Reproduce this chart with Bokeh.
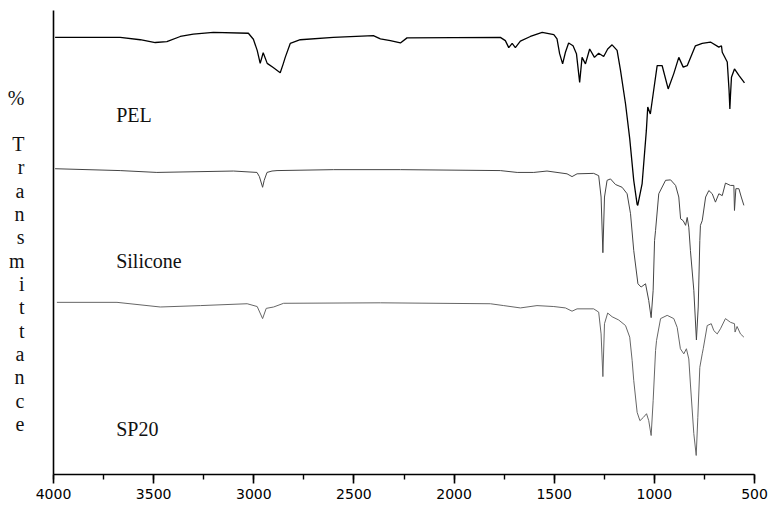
from bokeh.plotting import figure
from bokeh.models import Range1d, SingleIntervalTicker, Label, FixedTicker
from bokeh.embed import file_html
from bokeh.resources import INLINE

# ---- data (wavenumber cm-1, transmittance in arbitrary stacked units) ----
pel_wn = [3992, 3667, 3567, 3492, 3434, 3367, 3302, 3202, 3027, 3002, 2983, 2968, 2953, 2933, 2903,
          2868, 2853, 2843, 2818, 2768,
          2603, 2403, 2368, 2318, 2268, 2235, 1769, 1744, 1727, 1710, 1694, 1669, 1619, 1560,
          1502, 1486, 1473, 1458, 1444, 1428, 1406, 1389, 1373, 1361, 1344, 1323, 1299, 1278,
          1253, 1233, 1211, 1186, 1169, 1144, 1123, 1103, 1086, 1083, 1061, 1040, 1033, 1020,
          1006, 986, 961, 931, 903, 878, 856, 836, 795, 761, 720, 678, 665, 661, 636, 627,
          623, 620, 615, 600, 578, 550]
pel_t = [94.2, 94.2, 93.7, 93.1, 93.3, 94.4, 94.9, 95.3, 95.1, 93.8, 91.4, 88.6, 90.9, 88.6, 87.7,
         86.6, 88.5, 89.9, 92.9, 93.7,
         94.2, 94.6, 93.9, 93.5, 93.0, 94.1, 94.2, 93.5, 92.0, 92.9, 92.0, 93.4, 94.4, 95.3,
         94.8, 93.9, 90.7, 88.5, 91.0, 93.0, 92.4, 90.7, 84.5, 89.9, 88.5, 91.7, 89.9, 90.8,
         90.1, 91.7, 92.6, 91.4, 87.1, 79.9, 72.4, 63.4, 58.2, 58.0, 62.7, 74.1, 79.2, 77.7,
         82.0, 88.1, 88.1, 83.1, 86.4, 89.9, 87.8, 88.1, 92.4, 92.9, 93.2, 92.1, 92.4, 91.0,
         88.9, 82.8, 78.8, 81.7, 85.6, 87.4, 86.0, 84.4]

sil_wn = [3992, 3667, 3484, 3101, 2984, 2972, 2956, 2948, 2934, 2909, 2884, 2601, 2268, 1769,
          1685, 1602, 1536, 1436, 1411, 1386, 1303, 1278, 1266, 1257, 1249, 1236, 1219, 1194,
          1161, 1136, 1119, 1103, 1082, 1066, 1044, 1028, 1016, 1006, 999, 994, 978, 944, 919,
          894, 878, 869, 856, 844, 836, 828, 820, 803, 790, 781, 773, 770, 761, 744, 728, 711,
          695, 678, 661, 645, 620, 603, 600, 593, 578, 566, 553]
sil_t = [65.9, 65.5, 65.1, 65.4, 65.1, 64.2, 61.9, 63.4, 65.1, 65.4, 65.5, 65.7, 65.7, 65.5,
         65.1, 65.1, 65.4, 64.8, 64.2, 64.8, 64.9, 64.4, 59.8, 47.8, 59.8, 63.4, 63.7, 62.5,
         61.9, 60.5, 56.2, 48.3, 41.1, 40.4, 41.1, 37.5, 33.8, 39.7, 50.4, 52.6, 60.5, 63.4, 63.5,
         62.3, 59.8, 55.1, 54.7, 53.7, 55.4, 53.3, 48.3, 39.7, 29.0, 36.1, 50.4, 53.7, 54.7, 59.8,
         61.2, 60.5, 58.7, 60.5, 60.1, 62.8, 62.3, 62.3, 56.9, 61.6, 61.6, 59.8, 58.0]

sp20_wn = [3983, 3683, 3467, 3267, 3033, 2983, 2956, 2938, 2901, 2851, 2368, 1819, 1752, 1669,
           1586, 1502, 1444, 1411, 1386, 1303, 1278, 1266, 1257, 1249, 1233, 1211, 1178, 1144,
           1123, 1111, 1103, 1086, 1072, 1055, 1039, 1028, 1016, 1006, 994, 989, 969, 936, 903,
           886, 870, 853, 840, 828, 820, 803, 791, 783, 773, 761, 756, 736, 716, 703, 686, 670,
           645, 620, 600, 597, 587, 570, 553]
sp20_t = [37.1, 37.1, 36.1, 36.4, 36.8, 36.2, 33.6, 35.8, 36.1, 36.9, 37.0, 36.8, 36.4, 35.9,
          36.4, 36.2, 35.9, 35.2, 35.7, 35.7, 35.0, 30.3, 21.1, 32.5, 34.8, 34.0, 33.3, 32.1,
          29.6, 24.6, 20.3, 13.4, 11.6, 12.3, 13.1, 11.6, 8.4, 15.9, 26.7, 28.9, 33.6, 34.3, 33.6,
          31.7, 27.1, 26.0, 27.1, 24.9, 19.5, 8.8, 4.1, 12.3, 23.1, 26.0, 27.1, 32.1, 32.5, 31.0,
          30.3, 31.4, 33.6, 32.8, 32.5, 30.7, 31.9, 30.3, 29.6]

series_names = ["PEL", "Silicone", "SP20"]
series_label_wn = 3687
series_label_t = [77.4, 46.1, 9.9]
ylabel_chars = ["%", "", "T", "r", "a", "n", "s", "m", "i", "t", "t", "a", "n", "c", "e"]
x_ticks_interval = 500

# ---- figure ----
W, H = 771, 506
TOP, BOTTOM = 10, 32
p = figure(width=W, height=H, output_backend="svg", toolbar_location=None,
           x_range=Range1d(4000, 500), y_range=Range1d(0, 100),
           min_border_left=53, min_border_right=17, min_border_top=TOP, min_border_bottom=BOTTOM)
p.outline_line_color = None
p.background_fill_color = "white"
p.border_fill_color = "white"
p.xgrid.grid_line_color = None
p.ygrid.grid_line_color = None

p.xaxis.ticker = SingleIntervalTicker(interval=x_ticks_interval, num_minor_ticks=2)
p.xaxis.axis_line_width = 1.6
p.xaxis.axis_line_color = "black"
p.xaxis.major_tick_line_width = 1.6
p.xaxis.major_tick_out = 9
p.xaxis.major_tick_in = 0
p.xaxis.minor_tick_line_width = 1.4
p.xaxis.minor_tick_out = 5
p.xaxis.minor_tick_in = 0
p.xaxis.major_label_text_font = "DejaVu Sans"
p.xaxis.major_label_text_font_size = "14px"
p.xaxis.major_label_text_color = "black"
p.xaxis.major_label_standoff = 5

# stacked y-axis title, drawn as the left axis' tick labels
frame_h = H - TOP - BOTTOM
tick_pos, overrides = [], {}
for i, ch in enumerate(ylabel_chars):
    if not ch:
        continue
    baseline_px = 103.5 + i * 23.33          # from top of canvas
    center_px = baseline_px - 6.5
    yv = round((TOP + frame_h - center_px) * 100.0 / frame_h, 3)
    tick_pos.append(yv)
    overrides[yv] = ch

p.yaxis.ticker = FixedTicker(ticks=tick_pos, minor_ticks=[])
p.yaxis.major_label_overrides = overrides
p.yaxis.axis_line_width = 1.6
p.yaxis.axis_line_color = "black"
p.yaxis.major_tick_line_color = None
p.yaxis.minor_tick_line_color = None
p.yaxis.major_tick_out = 0
p.yaxis.major_tick_in = 0
p.yaxis.major_label_standoff = 29
p.yaxis.major_label_text_font = "Liberation Serif"
p.yaxis.major_label_text_font_size = "20px"
p.yaxis.major_label_text_color = "#111111"

p.line(pel_wn, pel_t, line_color="black", line_width=1.3)
p.line(sil_wn, sil_t, line_color="#444444", line_width=1.0)
p.line(sp20_wn, sp20_t, line_color="#666666", line_width=1.0)

for name, t in zip(series_names, series_label_t):
    p.add_layout(Label(x=series_label_wn, y=t, text=name, text_font="Liberation Serif",
                       text_font_size="20px", text_color="#111111",
                       text_baseline="alphabetic", text_align="left"))

open("out.html", "w").write(file_html(p, INLINE))
